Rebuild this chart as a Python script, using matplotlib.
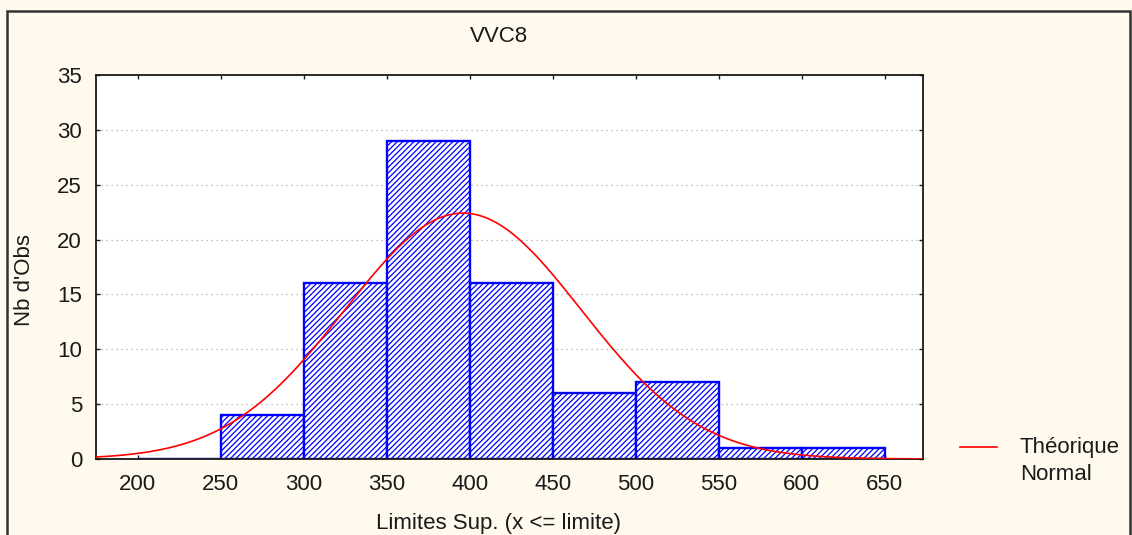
import numpy as np
import matplotlib.pyplot as plt
from matplotlib.lines import Line2D
from matplotlib.patches import Rectangle

plt.rcParams['font.family'] = ['Liberation Sans', 'DejaVu Sans']
plt.rcParams['hatch.linewidth'] = 0.9

# histogram data (upper limits of classes)
bin_lefts = [200, 250, 300, 350, 400, 450, 500, 550, 600]
counts = [0, 4, 16, 29, 16, 6, 7, 1, 1]
bin_width = 50
xticks = [200, 250, 300, 350, 400, 450, 500, 550, 600, 650]
yticks = [0, 5, 10, 15, 20, 25, 30, 35]

# fitted normal parameters
curve_mean = 396.0
curve_sd = 71.2

bg = '#fff9ee'
fs = 16
txt = '#1a1a1a'
fig = plt.figure(figsize=(11.32, 5.35), dpi=100, facecolor=bg)
ax = fig.add_axes([96/1132, 1-459/535, (923-96)/1132, (459-75)/535])
ax.set_facecolor('white')

ax.bar(bin_lefts, counts, width=bin_width, align='edge', color='white',
       edgecolor='#0000ff', linewidth=1.7, hatch='//////', zorder=2)

xs = np.linspace(175, 673, 400)
n = sum(counts)
ys = n * bin_width / (curve_sd * np.sqrt(2*np.pi)) * np.exp(-0.5*((xs-curve_mean)/curve_sd)**2)
ax.plot(xs, ys, color='#ff0000', lw=1.2, zorder=3)

ax.set_xlim(175, 673)
ax.set_ylim(0, 35)
ax.set_xticks(xticks)
ax.set_yticks(yticks)
ax.yaxis.grid(True, linestyle=(0, (1, 3)), color='#aaaaaa', lw=0.9, zorder=0)
ax.set_axisbelow(True)
ax.tick_params(direction='in', length=3, width=1, top=True, right=True,
               labelsize=fs, colors=txt, pad=10)
ax.tick_params(axis='x', pad=11)
for s in ax.spines.values():
    s.set_linewidth(1.3)
    s.set_color(txt)

fig.text(499/1132, 1-37/535, 'VVC8', ha='center', va='center', fontsize=fs, color=txt)
fig.text(25/1132, 1-280/535, "Nb d'Obs", rotation=90, ha='center', va='center',
         fontsize=fs, color=txt)
fig.text(498/1132, 1-523/535, 'Limites Sup. (x <= limite)', ha='center', va='center',
         fontsize=fs, color=txt)

# legend
fig.add_artist(Line2D([960/1132, 997/1132], [1-447/535, 1-447/535], color='#ff0000', lw=1.2))
fig.text(1020/1132, 1-447/535, 'Théorique', ha='left', va='center', fontsize=fs, color=txt)
fig.text(1020/1132, 1-475/535, 'Normal', ha='left', va='center', fontsize=fs, color=txt)

# outer frame
fig.add_artist(Rectangle((7/1132, -0.05), (1130-7)/1132, 1-11/535+0.05, transform=fig.transFigure,
                         fill=False, edgecolor='#333333', lw=1.8))

fig.savefig('out.png', dpi=100, facecolor=bg)
